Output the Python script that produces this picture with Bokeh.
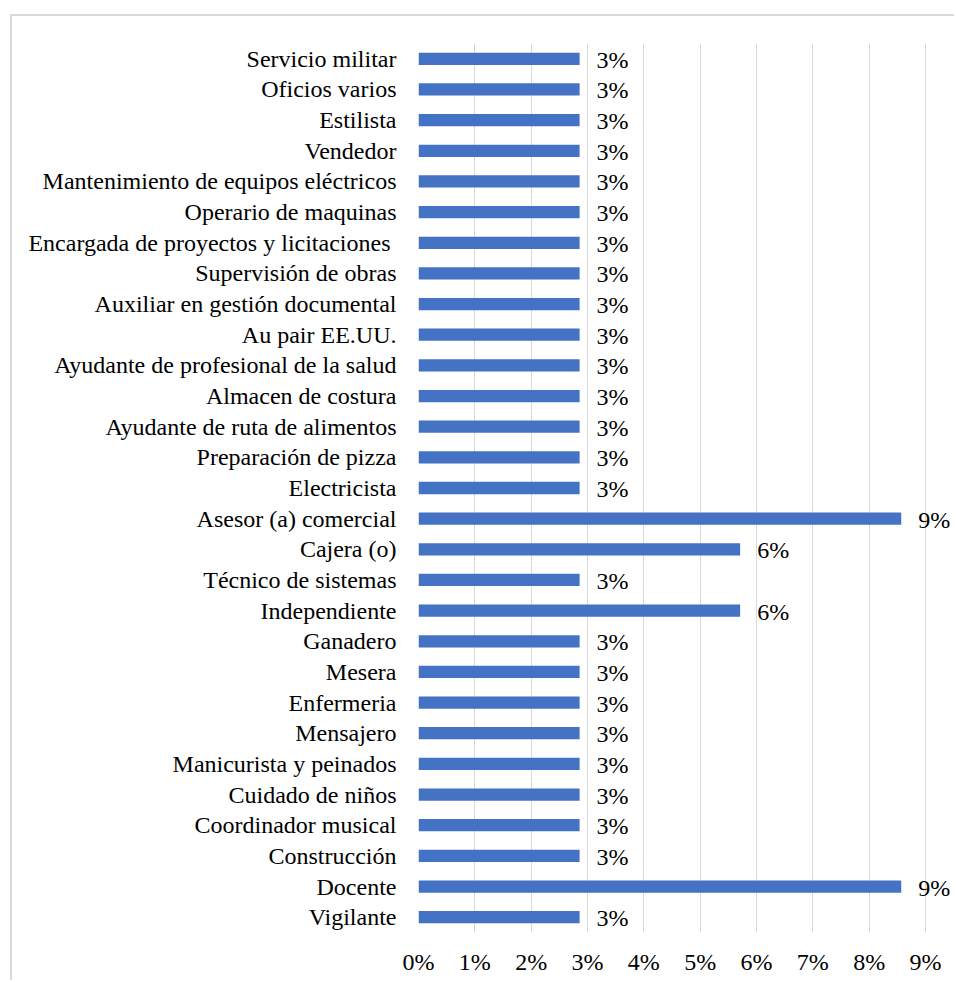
from bokeh.plotting import figure
from bokeh.models import ColumnDataSource, FixedTicker, LabelSet
from bokeh.embed import file_html
from bokeh.resources import INLINE

categories = [
    "Vigilante", "Docente", "Construcción", "Coordinador musical", "Cuidado de niños",
    "Manicurista y peinados", "Mensajero", "Enfermeria", "Mesera", "Ganadero",
    "Independiente", "Técnico de sistemas", "Cajera (o)", "Asesor (a) comercial",
    "Electricista", "Preparación de pizza", "Ayudante de ruta de alimentos",
    "Almacen de costura", "Ayudante de profesional de la salud", "Au pair EE.UU.",
    "Auxiliar en gestión documental", "Supervisión de obras",
    "Encargada de proyectos y licitaciones ", "Operario de maquinas",
    "Mantenimiento de equipos eléctricos", "Vendedor", "Estilista",
    "Oficios varios", "Servicio militar",
]
values = [
    2.86, 8.57, 2.86, 2.86, 2.86,
    2.86, 2.86, 2.86, 2.86, 2.86,
    5.71, 2.86, 5.71, 8.57,
    2.86, 2.86, 2.86,
    2.86, 2.86, 2.86,
    2.86, 2.86,
    2.86, 2.86,
    2.86, 2.86, 2.86,
    2.86, 2.86,
]
value_labels = [f"{round(v)}%" for v in values]
x_ticks = [0, 1, 2, 3, 4, 5, 6, 7, 8, 9]
x_tick_labels = ["0%", "1%", "2%", "3%", "4%", "5%", "6%", "7%", "8%", "9%"]

FONT = "Liberation Serif"
FSIZE = "24px"

src = ColumnDataSource(dict(cat=categories, val=values, lab=value_labels))

p = figure(
    y_range=categories, x_range=(0, 9.48),
    width=944, height=966,
    output_backend="svg", toolbar_location=None,
    min_border_left=406, min_border_right=4, min_border_top=27, min_border_bottom=50,
)
p.styles = {
    "margin-left": "10px", "margin-top": "14px",
    "border-left": "2px solid #d9d9d9", "border-top": "2px solid #d9d9d9",
}
p.outline_line_color = None
p.background_fill_color = "white"
p.border_fill_color = "white"

p.hbar(y="cat", right="val", left=0, height=0.4, source=src,
       fill_color="#4472C4", line_color=None)

labels = LabelSet(x="val", y="cat", text="lab", source=src, x_offset=17, y_offset=-1,
                  text_baseline="middle", text_align="left",
                  text_font=FONT, text_font_size=FSIZE, text_color="#000000")
p.add_layout(labels)

p.xaxis.ticker = FixedTicker(ticks=x_ticks)
p.xaxis.major_label_overrides = {t: l for t, l in zip(x_ticks, x_tick_labels)}
p.xaxis.axis_line_color = None
p.xaxis.major_tick_line_color = None
p.xaxis.minor_tick_line_color = None
p.xaxis.major_label_standoff = 10
p.xaxis.major_label_text_font = FONT
p.xaxis.major_label_text_font_size = FSIZE
p.xaxis.major_label_text_color = "#000000"

p.yaxis.axis_line_color = None
p.yaxis.major_tick_line_color = None
p.yaxis.minor_tick_line_color = None
p.yaxis.major_label_standoff = 16
p.yaxis.major_label_text_font = FONT
p.yaxis.major_label_text_font_size = FSIZE
p.yaxis.major_label_text_color = "#000000"

p.ygrid.grid_line_color = None
p.xgrid.grid_line_color = "#d9d9d9"
p.xgrid.grid_line_width = 1

open("out.html", "w").write(file_html(p, INLINE))
